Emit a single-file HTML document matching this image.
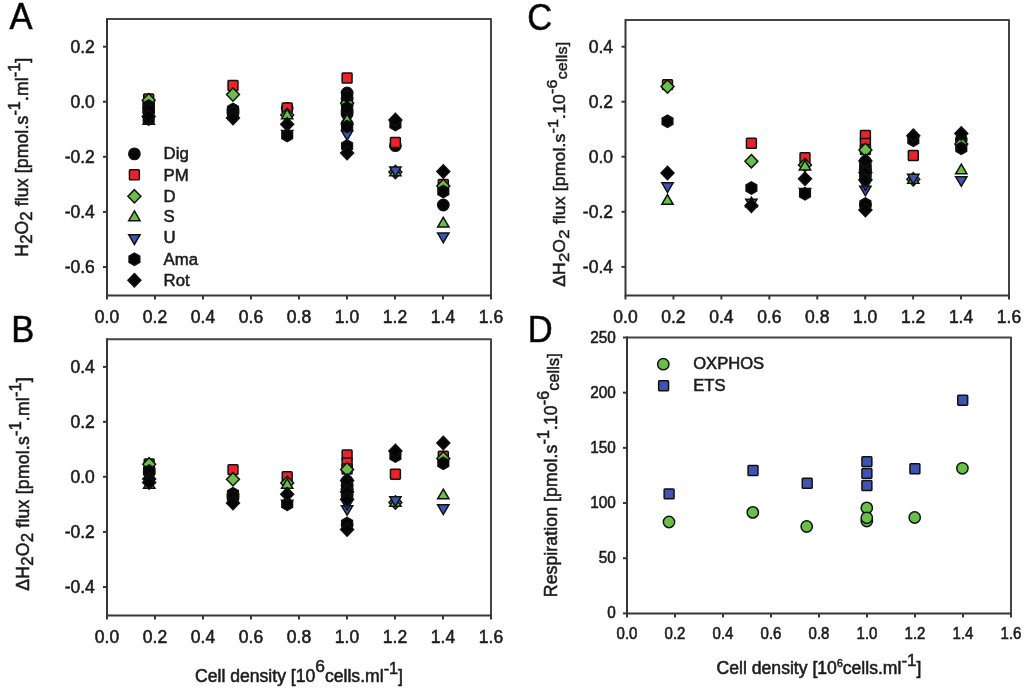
<!DOCTYPE html><html><head><meta charset="utf-8"><style>html,body{margin:0;padding:0;background:#fff;}svg{display:block;filter:blur(0.35px);}</style></head><body>
<svg width="1024" height="690" viewBox="0 0 1024 690" font-family='"Liberation Sans", sans-serif'><style>text{stroke:#1c1c1c;stroke-width:0.55px;}</style>
<rect width="1024" height="690" fill="#fff"/>
<text transform="translate(9.6,29.4) scale(1,1.06)" x="0" y="0" font-size="34.5" fill="#000">A</text>
<text transform="translate(11.2,341.9) scale(1,1.06)" x="0" y="0" font-size="34.5" fill="#000">B</text>
<text transform="translate(527.2,29.6) scale(1,1.06)" x="0" y="0" font-size="34.5" fill="#000">C</text>
<text transform="translate(527.8,341.9) scale(1,1.06)" x="0" y="0" font-size="34.5" fill="#000">D</text>
<path d="M107,19 H491 V295.5" fill="none" stroke="#444" stroke-width="2" stroke-linejoin="round"/>
<path d="M107,18 V295.5 H492" fill="none" stroke="#363636" stroke-width="2"/>
<line x1="107" y1="295.5" x2="107" y2="299.5" stroke="#363636" stroke-width="2"/>
<text x="107" y="323.3" font-size="17.5" text-anchor="middle" fill="#1c1c1c" >0.0</text>
<line x1="155" y1="295.5" x2="155" y2="299.5" stroke="#363636" stroke-width="2"/>
<text x="155" y="323.3" font-size="17.5" text-anchor="middle" fill="#1c1c1c" >0.2</text>
<line x1="203" y1="295.5" x2="203" y2="299.5" stroke="#363636" stroke-width="2"/>
<text x="203" y="323.3" font-size="17.5" text-anchor="middle" fill="#1c1c1c" >0.4</text>
<line x1="251" y1="295.5" x2="251" y2="299.5" stroke="#363636" stroke-width="2"/>
<text x="251" y="323.3" font-size="17.5" text-anchor="middle" fill="#1c1c1c" >0.6</text>
<line x1="299" y1="295.5" x2="299" y2="299.5" stroke="#363636" stroke-width="2"/>
<text x="299" y="323.3" font-size="17.5" text-anchor="middle" fill="#1c1c1c" >0.8</text>
<line x1="347" y1="295.5" x2="347" y2="299.5" stroke="#363636" stroke-width="2"/>
<text x="347" y="323.3" font-size="17.5" text-anchor="middle" fill="#1c1c1c" >1.0</text>
<line x1="395" y1="295.5" x2="395" y2="299.5" stroke="#363636" stroke-width="2"/>
<text x="395" y="323.3" font-size="17.5" text-anchor="middle" fill="#1c1c1c" >1.2</text>
<line x1="443" y1="295.5" x2="443" y2="299.5" stroke="#363636" stroke-width="2"/>
<text x="443" y="323.3" font-size="17.5" text-anchor="middle" fill="#1c1c1c" >1.4</text>
<line x1="491" y1="295.5" x2="491" y2="299.5" stroke="#363636" stroke-width="2"/>
<text x="491" y="323.3" font-size="17.5" text-anchor="middle" fill="#1c1c1c" >1.6</text>
<line x1="103" y1="46.7" x2="107" y2="46.7" stroke="#363636" stroke-width="2"/>
<text x="94.8" y="52.9" font-size="17.5" text-anchor="end" fill="#1c1c1c" >0.2</text>
<line x1="103" y1="101.7" x2="107" y2="101.7" stroke="#363636" stroke-width="2"/>
<text x="94.8" y="107.9" font-size="17.5" text-anchor="end" fill="#1c1c1c" >0.0</text>
<line x1="103" y1="156.8" x2="107" y2="156.8" stroke="#363636" stroke-width="2"/>
<text x="94.8" y="163" font-size="17.5" text-anchor="end" fill="#1c1c1c" >-0.2</text>
<line x1="103" y1="211.9" x2="107" y2="211.9" stroke="#363636" stroke-width="2"/>
<text x="94.8" y="218.1" font-size="17.5" text-anchor="end" fill="#1c1c1c" >-0.4</text>
<line x1="103" y1="267" x2="107" y2="267" stroke="#363636" stroke-width="2"/>
<text x="94.8" y="273.2" font-size="17.5" text-anchor="end" fill="#1c1c1c" >-0.6</text>
<path d="M107,339.3 H491 V615.5" fill="none" stroke="#444" stroke-width="2" stroke-linejoin="round"/>
<path d="M107,338.3 V615.5 H492" fill="none" stroke="#363636" stroke-width="2"/>
<line x1="107" y1="615.5" x2="107" y2="619.5" stroke="#363636" stroke-width="2"/>
<text x="107" y="643.3" font-size="17.5" text-anchor="middle" fill="#1c1c1c" >0.0</text>
<line x1="155" y1="615.5" x2="155" y2="619.5" stroke="#363636" stroke-width="2"/>
<text x="155" y="643.3" font-size="17.5" text-anchor="middle" fill="#1c1c1c" >0.2</text>
<line x1="203" y1="615.5" x2="203" y2="619.5" stroke="#363636" stroke-width="2"/>
<text x="203" y="643.3" font-size="17.5" text-anchor="middle" fill="#1c1c1c" >0.4</text>
<line x1="251" y1="615.5" x2="251" y2="619.5" stroke="#363636" stroke-width="2"/>
<text x="251" y="643.3" font-size="17.5" text-anchor="middle" fill="#1c1c1c" >0.6</text>
<line x1="299" y1="615.5" x2="299" y2="619.5" stroke="#363636" stroke-width="2"/>
<text x="299" y="643.3" font-size="17.5" text-anchor="middle" fill="#1c1c1c" >0.8</text>
<line x1="347" y1="615.5" x2="347" y2="619.5" stroke="#363636" stroke-width="2"/>
<text x="347" y="643.3" font-size="17.5" text-anchor="middle" fill="#1c1c1c" >1.0</text>
<line x1="395" y1="615.5" x2="395" y2="619.5" stroke="#363636" stroke-width="2"/>
<text x="395" y="643.3" font-size="17.5" text-anchor="middle" fill="#1c1c1c" >1.2</text>
<line x1="443" y1="615.5" x2="443" y2="619.5" stroke="#363636" stroke-width="2"/>
<text x="443" y="643.3" font-size="17.5" text-anchor="middle" fill="#1c1c1c" >1.4</text>
<line x1="491" y1="615.5" x2="491" y2="619.5" stroke="#363636" stroke-width="2"/>
<text x="491" y="643.3" font-size="17.5" text-anchor="middle" fill="#1c1c1c" >1.6</text>
<line x1="103" y1="366.9" x2="107" y2="366.9" stroke="#363636" stroke-width="2"/>
<text x="94.8" y="373.1" font-size="17.5" text-anchor="end" fill="#1c1c1c" >0.4</text>
<line x1="103" y1="421.8" x2="107" y2="421.8" stroke="#363636" stroke-width="2"/>
<text x="94.8" y="428" font-size="17.5" text-anchor="end" fill="#1c1c1c" >0.2</text>
<line x1="103" y1="476.8" x2="107" y2="476.8" stroke="#363636" stroke-width="2"/>
<text x="94.8" y="483" font-size="17.5" text-anchor="end" fill="#1c1c1c" >0.0</text>
<line x1="103" y1="531.9" x2="107" y2="531.9" stroke="#363636" stroke-width="2"/>
<text x="94.8" y="538.1" font-size="17.5" text-anchor="end" fill="#1c1c1c" >-0.2</text>
<line x1="103" y1="587" x2="107" y2="587" stroke="#363636" stroke-width="2"/>
<text x="94.8" y="593.2" font-size="17.5" text-anchor="end" fill="#1c1c1c" >-0.4</text>
<path d="M625.5,20 H1009 V295.5" fill="none" stroke="#444" stroke-width="2" stroke-linejoin="round"/>
<path d="M625.5,19 V295.5 H1010" fill="none" stroke="#363636" stroke-width="2"/>
<line x1="625.5" y1="295.5" x2="625.5" y2="299.5" stroke="#363636" stroke-width="2"/>
<text x="625.5" y="323.3" font-size="17.5" text-anchor="middle" fill="#1c1c1c" >0.0</text>
<line x1="673.44" y1="295.5" x2="673.44" y2="299.5" stroke="#363636" stroke-width="2"/>
<text x="673.44" y="323.3" font-size="17.5" text-anchor="middle" fill="#1c1c1c" >0.2</text>
<line x1="721.38" y1="295.5" x2="721.38" y2="299.5" stroke="#363636" stroke-width="2"/>
<text x="721.38" y="323.3" font-size="17.5" text-anchor="middle" fill="#1c1c1c" >0.4</text>
<line x1="769.31" y1="295.5" x2="769.31" y2="299.5" stroke="#363636" stroke-width="2"/>
<text x="769.31" y="323.3" font-size="17.5" text-anchor="middle" fill="#1c1c1c" >0.6</text>
<line x1="817.25" y1="295.5" x2="817.25" y2="299.5" stroke="#363636" stroke-width="2"/>
<text x="817.25" y="323.3" font-size="17.5" text-anchor="middle" fill="#1c1c1c" >0.8</text>
<line x1="865.19" y1="295.5" x2="865.19" y2="299.5" stroke="#363636" stroke-width="2"/>
<text x="865.19" y="323.3" font-size="17.5" text-anchor="middle" fill="#1c1c1c" >1.0</text>
<line x1="913.12" y1="295.5" x2="913.12" y2="299.5" stroke="#363636" stroke-width="2"/>
<text x="913.12" y="323.3" font-size="17.5" text-anchor="middle" fill="#1c1c1c" >1.2</text>
<line x1="961.06" y1="295.5" x2="961.06" y2="299.5" stroke="#363636" stroke-width="2"/>
<text x="961.06" y="323.3" font-size="17.5" text-anchor="middle" fill="#1c1c1c" >1.4</text>
<line x1="1009" y1="295.5" x2="1009" y2="299.5" stroke="#363636" stroke-width="2"/>
<text x="1009" y="323.3" font-size="17.5" text-anchor="middle" fill="#1c1c1c" >1.6</text>
<line x1="621.5" y1="46.7" x2="625.5" y2="46.7" stroke="#363636" stroke-width="2"/>
<text x="613" y="52.9" font-size="17.5" text-anchor="end" fill="#1c1c1c" >0.4</text>
<line x1="621.5" y1="101.7" x2="625.5" y2="101.7" stroke="#363636" stroke-width="2"/>
<text x="613" y="107.9" font-size="17.5" text-anchor="end" fill="#1c1c1c" >0.2</text>
<line x1="621.5" y1="156.7" x2="625.5" y2="156.7" stroke="#363636" stroke-width="2"/>
<text x="613" y="162.9" font-size="17.5" text-anchor="end" fill="#1c1c1c" >0.0</text>
<line x1="621.5" y1="211.8" x2="625.5" y2="211.8" stroke="#363636" stroke-width="2"/>
<text x="613" y="218" font-size="17.5" text-anchor="end" fill="#1c1c1c" >-0.2</text>
<line x1="621.5" y1="266.9" x2="625.5" y2="266.9" stroke="#363636" stroke-width="2"/>
<text x="613" y="273.1" font-size="17.5" text-anchor="end" fill="#1c1c1c" >-0.4</text>
<path d="M627,337.5 H1011 V613.4" fill="none" stroke="#444" stroke-width="2" stroke-linejoin="round"/>
<path d="M627,336.5 V613.4 H1012" fill="none" stroke="#363636" stroke-width="2"/>
<line x1="627" y1="613.4" x2="627" y2="617.4" stroke="#363636" stroke-width="2"/>
<text transform="translate(627,638.9) scale(0.97,1.12)" x="0" y="0" font-size="15.5" text-anchor="middle" fill="#1c1c1c" >0.0</text>
<line x1="675" y1="613.4" x2="675" y2="617.4" stroke="#363636" stroke-width="2"/>
<text transform="translate(675,638.9) scale(0.97,1.12)" x="0" y="0" font-size="15.5" text-anchor="middle" fill="#1c1c1c" >0.2</text>
<line x1="723" y1="613.4" x2="723" y2="617.4" stroke="#363636" stroke-width="2"/>
<text transform="translate(723,638.9) scale(0.97,1.12)" x="0" y="0" font-size="15.5" text-anchor="middle" fill="#1c1c1c" >0.4</text>
<line x1="771" y1="613.4" x2="771" y2="617.4" stroke="#363636" stroke-width="2"/>
<text transform="translate(771,638.9) scale(0.97,1.12)" x="0" y="0" font-size="15.5" text-anchor="middle" fill="#1c1c1c" >0.6</text>
<line x1="819" y1="613.4" x2="819" y2="617.4" stroke="#363636" stroke-width="2"/>
<text transform="translate(819,638.9) scale(0.97,1.12)" x="0" y="0" font-size="15.5" text-anchor="middle" fill="#1c1c1c" >0.8</text>
<line x1="867" y1="613.4" x2="867" y2="617.4" stroke="#363636" stroke-width="2"/>
<text transform="translate(867,638.9) scale(0.97,1.12)" x="0" y="0" font-size="15.5" text-anchor="middle" fill="#1c1c1c" >1.0</text>
<line x1="915" y1="613.4" x2="915" y2="617.4" stroke="#363636" stroke-width="2"/>
<text transform="translate(915,638.9) scale(0.97,1.12)" x="0" y="0" font-size="15.5" text-anchor="middle" fill="#1c1c1c" >1.2</text>
<line x1="963" y1="613.4" x2="963" y2="617.4" stroke="#363636" stroke-width="2"/>
<text transform="translate(963,638.9) scale(0.97,1.12)" x="0" y="0" font-size="15.5" text-anchor="middle" fill="#1c1c1c" >1.4</text>
<line x1="1011" y1="613.4" x2="1011" y2="617.4" stroke="#363636" stroke-width="2"/>
<text transform="translate(1011,638.9) scale(0.97,1.12)" x="0" y="0" font-size="15.5" text-anchor="middle" fill="#1c1c1c" >1.6</text>
<line x1="623" y1="613.4" x2="627" y2="613.4" stroke="#363636" stroke-width="2"/>
<text transform="translate(615.8,618.4) scale(0.99,1.12)" x="0" y="0" font-size="15.5" text-anchor="end" fill="#1c1c1c" >0</text>
<line x1="623" y1="558.22" x2="627" y2="558.22" stroke="#363636" stroke-width="2"/>
<text transform="translate(615.8,563.22) scale(0.99,1.12)" x="0" y="0" font-size="15.5" text-anchor="end" fill="#1c1c1c" >50</text>
<line x1="623" y1="503.04" x2="627" y2="503.04" stroke="#363636" stroke-width="2"/>
<text transform="translate(615.8,508.04) scale(0.99,1.12)" x="0" y="0" font-size="15.5" text-anchor="end" fill="#1c1c1c" >100</text>
<line x1="623" y1="447.86" x2="627" y2="447.86" stroke="#363636" stroke-width="2"/>
<text transform="translate(615.8,452.86) scale(0.99,1.12)" x="0" y="0" font-size="15.5" text-anchor="end" fill="#1c1c1c" >150</text>
<line x1="623" y1="392.68" x2="627" y2="392.68" stroke="#363636" stroke-width="2"/>
<text transform="translate(615.8,397.68) scale(0.99,1.12)" x="0" y="0" font-size="15.5" text-anchor="end" fill="#1c1c1c" >200</text>
<line x1="623" y1="337.5" x2="627" y2="337.5" stroke="#363636" stroke-width="2"/>
<text transform="translate(615.8,342.5) scale(0.99,1.12)" x="0" y="0" font-size="15.5" text-anchor="end" fill="#1c1c1c" >250</text>
<text transform="translate(27.9,157.2) scale(1.0,1) rotate(-90)" x="0" y="0" font-size="17.6" text-anchor="middle" fill="#1c1c1c" letter-spacing="0.14">H<tspan dy="4" font-size="16.6">2</tspan><tspan dy="-4">O</tspan><tspan dy="4" font-size="16.6">2</tspan><tspan dy="-4"> flux [pmol.s</tspan><tspan dy="-8" font-size="16">-1</tspan><tspan dy="8">.ml</tspan><tspan dy="-8" font-size="16">-1</tspan><tspan dy="8">]</tspan></text>
<text transform="translate(28.7,483.9) scale(1.0,1) rotate(-90)" x="0" y="0" font-size="17.6" text-anchor="middle" fill="#1c1c1c" letter-spacing="0.24">&#916;H<tspan dy="4" font-size="16.6">2</tspan><tspan dy="-4">O</tspan><tspan dy="4" font-size="16.6">2</tspan><tspan dy="-4"> flux [pmol.s</tspan><tspan dy="-8" font-size="16">-1</tspan><tspan dy="8">.ml</tspan><tspan dy="-8" font-size="16">-1</tspan><tspan dy="8">]</tspan></text>
<text transform="translate(565.3,164.2) scale(0.92,1) rotate(-90)" x="0" y="0" font-size="17.6" text-anchor="middle" fill="#1c1c1c" letter-spacing="0.16">&#916;H<tspan dy="4" font-size="16.6">2</tspan><tspan dy="-4">O</tspan><tspan dy="4" font-size="16.6">2</tspan><tspan dy="-4"> flux [pmol.s</tspan><tspan dy="-8" font-size="16">-1</tspan><tspan dy="8">.10</tspan><tspan dy="-8.5" font-size="16">-6</tspan><tspan dy="10.5" font-size="16.2">cells]</tspan></text>
<text transform="translate(557.2,475.2) scale(1.0,1) rotate(-90)" x="0" y="0" font-size="17.6" text-anchor="middle" fill="#1c1c1c" letter-spacing="0.11">Respiration [pmol.s<tspan dy="-8" font-size="16">-1</tspan><tspan dy="8">.10</tspan><tspan dy="-8.5" font-size="16">-6</tspan><tspan dy="10.5" font-size="16.2">cells]</tspan></text>
<text x="299" y="681.5" font-size="17.6" text-anchor="middle" fill="#1c1c1c" >Cell density [10<tspan dy="-9.8" font-size="17.4">6</tspan><tspan dy="9.8">cells.ml</tspan><tspan dy="-7.5" font-size="16.3">-1</tspan><tspan dy="7.5">]</tspan></text>
<text x="819" y="674" font-size="17.6" text-anchor="middle" fill="#1c1c1c" >Cell density [10<tspan dy="-6.8" font-size="10.5">6</tspan><tspan dy="6.8">cells.ml</tspan><tspan dy="-8.2" font-size="17">-1</tspan><tspan dy="8.2">]</tspan></text>
<circle cx="134.4" cy="153.9" r="5.65" fill="#050505" stroke="#111" stroke-width="1.5"/>
<text x="163.6" y="159.1" font-size="16.75" text-anchor="start" fill="#1c1c1c" >Dig</text>
<rect x="129.45" y="169.85" width="9.9" height="9.9" rx="0.8" fill="#ec2229" stroke="#111" stroke-width="1.5"/>
<text x="163.6" y="180.6" font-size="16.75" text-anchor="start" fill="#1c1c1c" >PM</text>
<polygon points="134.4,189.65 140.85,196.3 134.4,202.95 127.95,196.3" fill="#69bf48" stroke="#111" stroke-width="1.5" stroke-linejoin="miter"/>
<text x="163.6" y="201.5" font-size="16.75" text-anchor="start" fill="#1c1c1c" >D</text>
<polygon points="134.4,210.95 140.05,220.65 128.75,220.65" fill="#69bf48" stroke="#111" stroke-width="1.5" stroke-linejoin="miter"/>
<text x="163.6" y="222" font-size="16.75" text-anchor="start" fill="#1c1c1c" >S</text>
<polygon points="128.75,234.75 140.05,234.75 134.4,244.45" fill="#3e54b0" stroke="#111" stroke-width="1.5" stroke-linejoin="miter"/>
<text x="163.6" y="243.4" font-size="16.75" text-anchor="start" fill="#1c1c1c" >U</text>
<polygon points="134.4,253.05 139.73,256.12 139.73,262.27 134.4,265.35 129.07,262.27 129.07,256.12" fill="#050505" stroke="#111" stroke-width="1.5" stroke-linejoin="miter"/>
<text x="163.6" y="264.6" font-size="16.75" text-anchor="start" fill="#1c1c1c" >Ama</text>
<polygon points="134.4,273.55 140.85,280.2 134.4,286.85 127.95,280.2" fill="#050505" stroke="#111" stroke-width="1.5" stroke-linejoin="miter"/>
<text x="163.6" y="285.7" font-size="16.75" text-anchor="start" fill="#1c1c1c" >Rot</text>
<circle cx="663.3" cy="364.2" r="5.65" fill="#69bf48" stroke="#111" stroke-width="1.5"/>
<text x="693.2" y="369.3" font-size="16.6" text-anchor="start" fill="#1c1c1c" >OXPHOS</text>
<rect x="658.65" y="380.75" width="9.9" height="9.9" rx="0.8" fill="#3e54b0" stroke="#111" stroke-width="1.5"/>
<text x="693.2" y="390.5" font-size="16.6" text-anchor="start" fill="#1c1c1c" >ETS</text>
<circle cx="148.7" cy="104" r="5.65" fill="#050505" stroke="#111" stroke-width="1.5"/>
<circle cx="148.7" cy="108" r="5.65" fill="#050505" stroke="#111" stroke-width="1.5"/>
<circle cx="148.7" cy="112" r="5.65" fill="#050505" stroke="#111" stroke-width="1.5"/>
<rect x="143.75" y="94.05" width="9.9" height="9.9" rx="0.8" fill="#ec2229" stroke="#111" stroke-width="1.5"/>
<polygon points="148.7,93.55 155.15,100.2 148.7,106.85 142.25,100.2" fill="#69bf48" stroke="#111" stroke-width="1.5" stroke-linejoin="miter"/>
<polygon points="148.7,114.65 154.35,124.35 143.05,124.35" fill="#69bf48" stroke="#111" stroke-width="1.5" stroke-linejoin="miter"/>
<polygon points="148.7,99.85 154.03,102.92 154.03,109.08 148.7,112.15 143.37,109.08 143.37,102.92" fill="#050505" stroke="#111" stroke-width="1.5" stroke-linejoin="miter"/>
<polygon points="148.7,103.85 154.03,106.92 154.03,113.08 148.7,116.15 143.37,113.08 143.37,106.92" fill="#050505" stroke="#111" stroke-width="1.5" stroke-linejoin="miter"/>
<polygon points="148.7,112.85 154.03,115.92 154.03,122.08 148.7,125.15 143.37,122.08 143.37,115.92" fill="#050505" stroke="#111" stroke-width="1.5" stroke-linejoin="miter"/>
<polygon points="148.7,109.85 155.15,116.5 148.7,123.15 142.25,116.5" fill="#050505" stroke="#111" stroke-width="1.5" stroke-linejoin="miter"/>
<circle cx="233" cy="110" r="5.65" fill="#050505" stroke="#111" stroke-width="1.5"/>
<circle cx="233" cy="113" r="5.65" fill="#050505" stroke="#111" stroke-width="1.5"/>
<rect x="228.05" y="80.55" width="9.9" height="9.9" rx="0.8" fill="#ec2229" stroke="#111" stroke-width="1.5"/>
<polygon points="233,87.95 239.45,94.6 233,101.25 226.55,94.6" fill="#69bf48" stroke="#111" stroke-width="1.5" stroke-linejoin="miter"/>
<polygon points="233,103.35 238.33,106.42 238.33,112.58 233,115.65 227.67,112.58 227.67,106.42" fill="#050505" stroke="#111" stroke-width="1.5" stroke-linejoin="miter"/>
<polygon points="233,106.85 238.33,109.92 238.33,116.08 233,119.15 227.67,116.08 227.67,109.92" fill="#050505" stroke="#111" stroke-width="1.5" stroke-linejoin="miter"/>
<polygon points="233,111.35 239.45,118 233,124.65 226.55,118" fill="#050505" stroke="#111" stroke-width="1.5" stroke-linejoin="miter"/>
<circle cx="287.2" cy="108.3" r="5.65" fill="#050505" stroke="#111" stroke-width="1.5"/>
<rect x="282.25" y="103.05" width="9.9" height="9.9" rx="0.8" fill="#ec2229" stroke="#111" stroke-width="1.5"/>
<polygon points="287.2,108.35 293.65,115 287.2,121.65 280.75,115" fill="#69bf48" stroke="#111" stroke-width="1.5" stroke-linejoin="miter"/>
<polygon points="287.2,109.15 292.85,118.85 281.55,118.85" fill="#69bf48" stroke="#111" stroke-width="1.5" stroke-linejoin="miter"/>
<polygon points="281.55,130.55 292.85,130.55 287.2,140.25" fill="#050505" stroke="#111" stroke-width="1.5" stroke-linejoin="miter"/>
<polygon points="287.2,129.35 292.53,132.43 292.53,138.57 287.2,141.65 281.87,138.57 281.87,132.43" fill="#050505" stroke="#111" stroke-width="1.5" stroke-linejoin="miter"/>
<polygon points="287.2,117.65 293.65,124.3 287.2,130.95 280.75,124.3" fill="#050505" stroke="#111" stroke-width="1.5" stroke-linejoin="miter"/>
<circle cx="347.1" cy="93" r="5.65" fill="#050505" stroke="#111" stroke-width="1.5"/>
<circle cx="347.1" cy="99" r="5.65" fill="#050505" stroke="#111" stroke-width="1.5"/>
<circle cx="347.1" cy="105" r="5.65" fill="#050505" stroke="#111" stroke-width="1.5"/>
<circle cx="347.1" cy="111" r="5.65" fill="#050505" stroke="#111" stroke-width="1.5"/>
<circle cx="347.1" cy="114" r="5.65" fill="#050505" stroke="#111" stroke-width="1.5"/>
<circle cx="347.1" cy="124" r="5.65" fill="#050505" stroke="#111" stroke-width="1.5"/>
<rect x="342.15" y="73.05" width="9.9" height="9.9" rx="0.8" fill="#ec2229" stroke="#111" stroke-width="1.5"/>
<polygon points="347.1,96.35 353.55,103 347.1,109.65 340.65,103" fill="#69bf48" stroke="#111" stroke-width="1.5" stroke-linejoin="miter"/>
<polygon points="347.1,114.15 352.75,123.85 341.45,123.85" fill="#69bf48" stroke="#111" stroke-width="1.5" stroke-linejoin="miter"/>
<polygon points="341.45,130.65 352.75,130.65 347.1,140.35" fill="#3e54b0" stroke="#111" stroke-width="1.5" stroke-linejoin="miter"/>
<polygon points="347.1,89.85 352.43,92.92 352.43,99.08 347.1,102.15 341.77,99.08 341.77,92.92" fill="#050505" stroke="#111" stroke-width="1.5" stroke-linejoin="miter"/>
<polygon points="347.1,101.85 352.43,104.92 352.43,111.08 347.1,114.15 341.77,111.08 341.77,104.92" fill="#050505" stroke="#111" stroke-width="1.5" stroke-linejoin="miter"/>
<polygon points="347.1,120.35 352.43,123.42 352.43,129.57 347.1,132.65 341.77,129.57 341.77,123.42" fill="#050505" stroke="#111" stroke-width="1.5" stroke-linejoin="miter"/>
<polygon points="347.1,139.85 352.43,142.93 352.43,149.07 347.1,152.15 341.77,149.07 341.77,142.93" fill="#050505" stroke="#111" stroke-width="1.5" stroke-linejoin="miter"/>
<polygon points="347.1,146.35 353.55,153 347.1,159.65 340.65,153" fill="#050505" stroke="#111" stroke-width="1.5" stroke-linejoin="miter"/>
<circle cx="395.4" cy="145.7" r="5.65" fill="#050505" stroke="#111" stroke-width="1.5"/>
<rect x="390.45" y="137.55" width="9.9" height="9.9" rx="0.8" fill="#ec2229" stroke="#111" stroke-width="1.5"/>
<polygon points="395.4,165.35 401.85,172 395.4,178.65 388.95,172" fill="#69bf48" stroke="#111" stroke-width="1.5" stroke-linejoin="miter"/>
<polygon points="395.4,166.15 401.05,175.85 389.75,175.85" fill="#69bf48" stroke="#111" stroke-width="1.5" stroke-linejoin="miter"/>
<polygon points="389.75,166.95 401.05,166.95 395.4,176.65" fill="#3e54b0" stroke="#111" stroke-width="1.5" stroke-linejoin="miter"/>
<polygon points="395.4,118.35 400.73,121.42 400.73,127.58 395.4,130.65 390.07,127.58 390.07,121.42" fill="#050505" stroke="#111" stroke-width="1.5" stroke-linejoin="miter"/>
<polygon points="395.4,113.35 401.85,120 395.4,126.65 388.95,120" fill="#050505" stroke="#111" stroke-width="1.5" stroke-linejoin="miter"/>
<circle cx="443.3" cy="205" r="5.65" fill="#050505" stroke="#111" stroke-width="1.5"/>
<rect x="438.35" y="179.55" width="9.9" height="9.9" rx="0.8" fill="#ec2229" stroke="#111" stroke-width="1.5"/>
<polygon points="443.3,179.35 449.75,186 443.3,192.65 436.85,186" fill="#69bf48" stroke="#111" stroke-width="1.5" stroke-linejoin="miter"/>
<polygon points="443.3,217.35 448.95,227.05 437.65,227.05" fill="#69bf48" stroke="#111" stroke-width="1.5" stroke-linejoin="miter"/>
<polygon points="437.65,233.05 448.95,233.05 443.3,242.75" fill="#3e54b0" stroke="#111" stroke-width="1.5" stroke-linejoin="miter"/>
<polygon points="443.3,185.35 448.63,188.43 448.63,194.57 443.3,197.65 437.97,194.57 437.97,188.43" fill="#050505" stroke="#111" stroke-width="1.5" stroke-linejoin="miter"/>
<polygon points="443.3,164.75 449.75,171.4 443.3,178.05 436.85,171.4" fill="#050505" stroke="#111" stroke-width="1.5" stroke-linejoin="miter"/>
<circle cx="149.2" cy="469.5" r="5.65" fill="#050505" stroke="#111" stroke-width="1.5"/>
<circle cx="149.2" cy="473" r="5.65" fill="#050505" stroke="#111" stroke-width="1.5"/>
<rect x="144.25" y="459.05" width="9.9" height="9.9" rx="0.8" fill="#ec2229" stroke="#111" stroke-width="1.5"/>
<polygon points="149.2,457.65 155.65,464.3 149.2,470.95 142.75,464.3" fill="#69bf48" stroke="#111" stroke-width="1.5" stroke-linejoin="miter"/>
<polygon points="149.2,478.65 154.85,488.35 143.55,488.35" fill="#69bf48" stroke="#111" stroke-width="1.5" stroke-linejoin="miter"/>
<polygon points="149.2,464.85 154.53,467.93 154.53,474.07 149.2,477.15 143.87,474.07 143.87,467.93" fill="#050505" stroke="#111" stroke-width="1.5" stroke-linejoin="miter"/>
<polygon points="149.2,472.35 155.65,479 149.2,485.65 142.75,479" fill="#050505" stroke="#111" stroke-width="1.5" stroke-linejoin="miter"/>
<polygon points="149.2,475.95 155.65,482.6 149.2,489.25 142.75,482.6" fill="#050505" stroke="#111" stroke-width="1.5" stroke-linejoin="miter"/>
<circle cx="233" cy="495" r="5.65" fill="#050505" stroke="#111" stroke-width="1.5"/>
<circle cx="233" cy="498" r="5.65" fill="#050505" stroke="#111" stroke-width="1.5"/>
<rect x="228.05" y="464.65" width="9.9" height="9.9" rx="0.8" fill="#ec2229" stroke="#111" stroke-width="1.5"/>
<polygon points="233,472.65 239.45,479.3 233,485.95 226.55,479.3" fill="#69bf48" stroke="#111" stroke-width="1.5" stroke-linejoin="miter"/>
<polygon points="233,487.55 238.33,490.62 238.33,496.77 233,499.85 227.67,496.77 227.67,490.62" fill="#050505" stroke="#111" stroke-width="1.5" stroke-linejoin="miter"/>
<polygon points="233,490.85 238.33,493.93 238.33,500.07 233,503.15 227.67,500.07 227.67,493.93" fill="#050505" stroke="#111" stroke-width="1.5" stroke-linejoin="miter"/>
<polygon points="233,496.35 239.45,503 233,509.65 226.55,503" fill="#050505" stroke="#111" stroke-width="1.5" stroke-linejoin="miter"/>
<rect x="282.25" y="471.85" width="9.9" height="9.9" rx="0.8" fill="#ec2229" stroke="#111" stroke-width="1.5"/>
<polygon points="287.2,476.35 293.65,483 287.2,489.65 280.75,483" fill="#69bf48" stroke="#111" stroke-width="1.5" stroke-linejoin="miter"/>
<polygon points="287.2,478.65 292.85,488.35 281.55,488.35" fill="#69bf48" stroke="#111" stroke-width="1.5" stroke-linejoin="miter"/>
<polygon points="281.55,500.35 292.85,500.35 287.2,510.05" fill="#050505" stroke="#111" stroke-width="1.5" stroke-linejoin="miter"/>
<polygon points="287.2,498.15 292.53,501.23 292.53,507.38 287.2,510.45 281.87,507.38 281.87,501.23" fill="#050505" stroke="#111" stroke-width="1.5" stroke-linejoin="miter"/>
<polygon points="287.2,487.55 293.65,494.2 287.2,500.85 280.75,494.2" fill="#050505" stroke="#111" stroke-width="1.5" stroke-linejoin="miter"/>
<circle cx="347.1" cy="481" r="5.65" fill="#050505" stroke="#111" stroke-width="1.5"/>
<circle cx="347.1" cy="486" r="5.65" fill="#050505" stroke="#111" stroke-width="1.5"/>
<circle cx="347.1" cy="491" r="5.65" fill="#050505" stroke="#111" stroke-width="1.5"/>
<circle cx="347.1" cy="496" r="5.65" fill="#050505" stroke="#111" stroke-width="1.5"/>
<circle cx="347.1" cy="524.5" r="5.65" fill="#050505" stroke="#111" stroke-width="1.5"/>
<rect x="342.15" y="450.05" width="9.9" height="9.9" rx="0.8" fill="#ec2229" stroke="#111" stroke-width="1.5"/>
<rect x="342.15" y="458.05" width="9.9" height="9.9" rx="0.8" fill="#ec2229" stroke="#111" stroke-width="1.5"/>
<rect x="342.15" y="464.05" width="9.9" height="9.9" rx="0.8" fill="#ec2229" stroke="#111" stroke-width="1.5"/>
<polygon points="347.1,462.75 353.55,469.4 347.1,476.05 340.65,469.4" fill="#69bf48" stroke="#111" stroke-width="1.5" stroke-linejoin="miter"/>
<polygon points="347.1,479.15 352.75,488.85 341.45,488.85" fill="#69bf48" stroke="#111" stroke-width="1.5" stroke-linejoin="miter"/>
<polygon points="341.45,505.65 352.75,505.65 347.1,515.35" fill="#3e54b0" stroke="#111" stroke-width="1.5" stroke-linejoin="miter"/>
<polygon points="341.45,500.15 352.75,500.15 347.1,509.85" fill="#3e54b0" stroke="#111" stroke-width="1.5" stroke-linejoin="miter"/>
<polygon points="347.1,480.35 352.43,483.43 352.43,489.57 347.1,492.65 341.77,489.57 341.77,483.43" fill="#050505" stroke="#111" stroke-width="1.5" stroke-linejoin="miter"/>
<polygon points="347.1,485.85 352.43,488.93 352.43,495.07 347.1,498.15 341.77,495.07 341.77,488.93" fill="#050505" stroke="#111" stroke-width="1.5" stroke-linejoin="miter"/>
<polygon points="347.1,517.35 352.43,520.42 352.43,526.58 347.1,529.65 341.77,526.58 341.77,520.42" fill="#050505" stroke="#111" stroke-width="1.5" stroke-linejoin="miter"/>
<polygon points="347.1,473.85 353.55,480.5 347.1,487.15 340.65,480.5" fill="#050505" stroke="#111" stroke-width="1.5" stroke-linejoin="miter"/>
<polygon points="347.1,485.35 353.55,492 347.1,498.65 340.65,492" fill="#050505" stroke="#111" stroke-width="1.5" stroke-linejoin="miter"/>
<polygon points="347.1,492.65 353.55,499.3 347.1,505.95 340.65,499.3" fill="#050505" stroke="#111" stroke-width="1.5" stroke-linejoin="miter"/>
<polygon points="347.1,522.85 353.55,529.5 347.1,536.15 340.65,529.5" fill="#050505" stroke="#111" stroke-width="1.5" stroke-linejoin="miter"/>
<rect x="390.45" y="469.25" width="9.9" height="9.9" rx="0.8" fill="#ec2229" stroke="#111" stroke-width="1.5"/>
<polygon points="395.4,495.85 401.85,502.5 395.4,509.15 388.95,502.5" fill="#69bf48" stroke="#111" stroke-width="1.5" stroke-linejoin="miter"/>
<polygon points="395.4,496.65 401.05,506.35 389.75,506.35" fill="#69bf48" stroke="#111" stroke-width="1.5" stroke-linejoin="miter"/>
<polygon points="389.75,496.75 401.05,496.75 395.4,506.45" fill="#3e54b0" stroke="#111" stroke-width="1.5" stroke-linejoin="miter"/>
<polygon points="395.4,449.85 400.73,452.93 400.73,459.07 395.4,462.15 390.07,459.07 390.07,452.93" fill="#050505" stroke="#111" stroke-width="1.5" stroke-linejoin="miter"/>
<polygon points="395.4,444.35 401.85,451 395.4,457.65 388.95,451" fill="#050505" stroke="#111" stroke-width="1.5" stroke-linejoin="miter"/>
<rect x="438.35" y="451.35" width="9.9" height="9.9" rx="0.8" fill="#ec2229" stroke="#111" stroke-width="1.5"/>
<polygon points="443.3,451.75 449.75,458.4 443.3,465.05 436.85,458.4" fill="#69bf48" stroke="#111" stroke-width="1.5" stroke-linejoin="miter"/>
<polygon points="443.3,489.15 448.95,498.85 437.65,498.85" fill="#69bf48" stroke="#111" stroke-width="1.5" stroke-linejoin="miter"/>
<polygon points="437.65,504.85 448.95,504.85 443.3,514.55" fill="#3e54b0" stroke="#111" stroke-width="1.5" stroke-linejoin="miter"/>
<polygon points="443.3,457.15 448.63,460.23 448.63,466.38 443.3,469.45 437.97,466.38 437.97,460.23" fill="#050505" stroke="#111" stroke-width="1.5" stroke-linejoin="miter"/>
<polygon points="443.3,436.25 449.75,442.9 443.3,449.55 436.85,442.9" fill="#050505" stroke="#111" stroke-width="1.5" stroke-linejoin="miter"/>
<rect x="662.55" y="79.65" width="9.9" height="9.9" rx="0.8" fill="#ec2229" stroke="#111" stroke-width="1.5"/>
<polygon points="667.5,79.95 673.95,86.6 667.5,93.25 661.05,86.6" fill="#69bf48" stroke="#111" stroke-width="1.5" stroke-linejoin="miter"/>
<polygon points="667.5,194.55 673.15,204.25 661.85,204.25" fill="#69bf48" stroke="#111" stroke-width="1.5" stroke-linejoin="miter"/>
<polygon points="661.85,182.85 673.15,182.85 667.5,192.55" fill="#3e54b0" stroke="#111" stroke-width="1.5" stroke-linejoin="miter"/>
<polygon points="667.5,115.15 672.83,118.22 672.83,124.38 667.5,127.45 662.17,124.38 662.17,118.22" fill="#050505" stroke="#111" stroke-width="1.5" stroke-linejoin="miter"/>
<polygon points="667.5,166.35 673.95,173 667.5,179.65 661.05,173" fill="#050505" stroke="#111" stroke-width="1.5" stroke-linejoin="miter"/>
<rect x="746.45" y="138.35" width="9.9" height="9.9" rx="0.8" fill="#ec2229" stroke="#111" stroke-width="1.5"/>
<polygon points="751.4,154.55 757.85,161.2 751.4,167.85 744.95,161.2" fill="#69bf48" stroke="#111" stroke-width="1.5" stroke-linejoin="miter"/>
<polygon points="751.4,197.15 757.05,206.85 745.75,206.85" fill="#69bf48" stroke="#111" stroke-width="1.5" stroke-linejoin="miter"/>
<polygon points="745.75,199.15 757.05,199.15 751.4,208.85" fill="#3e54b0" stroke="#111" stroke-width="1.5" stroke-linejoin="miter"/>
<polygon points="751.4,181.85 756.73,184.93 756.73,191.07 751.4,194.15 746.07,191.07 746.07,184.93" fill="#050505" stroke="#111" stroke-width="1.5" stroke-linejoin="miter"/>
<polygon points="751.4,199.05 757.85,205.7 751.4,212.35 744.95,205.7" fill="#050505" stroke="#111" stroke-width="1.5" stroke-linejoin="miter"/>
<rect x="800.05" y="152.75" width="9.9" height="9.9" rx="0.8" fill="#ec2229" stroke="#111" stroke-width="1.5"/>
<polygon points="805,158.35 811.45,165 805,171.65 798.55,165" fill="#69bf48" stroke="#111" stroke-width="1.5" stroke-linejoin="miter"/>
<polygon points="805,160.25 810.65,169.95 799.35,169.95" fill="#69bf48" stroke="#111" stroke-width="1.5" stroke-linejoin="miter"/>
<polygon points="799.35,188.45 810.65,188.45 805,198.15" fill="#050505" stroke="#111" stroke-width="1.5" stroke-linejoin="miter"/>
<polygon points="805,187.55 810.33,190.62 810.33,196.77 805,199.85 799.67,196.77 799.67,190.62" fill="#050505" stroke="#111" stroke-width="1.5" stroke-linejoin="miter"/>
<polygon points="805,172.15 811.45,178.8 805,185.45 798.55,178.8" fill="#050505" stroke="#111" stroke-width="1.5" stroke-linejoin="miter"/>
<circle cx="865.4" cy="161.5" r="5.65" fill="#050505" stroke="#111" stroke-width="1.5"/>
<circle cx="865.4" cy="166.5" r="5.65" fill="#050505" stroke="#111" stroke-width="1.5"/>
<circle cx="865.4" cy="171.5" r="5.65" fill="#050505" stroke="#111" stroke-width="1.5"/>
<circle cx="865.4" cy="176.5" r="5.65" fill="#050505" stroke="#111" stroke-width="1.5"/>
<circle cx="865.4" cy="205" r="5.65" fill="#050505" stroke="#111" stroke-width="1.5"/>
<rect x="860.45" y="130.55" width="9.9" height="9.9" rx="0.8" fill="#ec2229" stroke="#111" stroke-width="1.5"/>
<rect x="860.45" y="138.55" width="9.9" height="9.9" rx="0.8" fill="#ec2229" stroke="#111" stroke-width="1.5"/>
<rect x="860.45" y="144.55" width="9.9" height="9.9" rx="0.8" fill="#ec2229" stroke="#111" stroke-width="1.5"/>
<polygon points="865.4,143.25 871.85,149.9 865.4,156.55 858.95,149.9" fill="#69bf48" stroke="#111" stroke-width="1.5" stroke-linejoin="miter"/>
<polygon points="865.4,159.65 871.05,169.35 859.75,169.35" fill="#69bf48" stroke="#111" stroke-width="1.5" stroke-linejoin="miter"/>
<polygon points="859.75,186.15 871.05,186.15 865.4,195.85" fill="#3e54b0" stroke="#111" stroke-width="1.5" stroke-linejoin="miter"/>
<polygon points="859.75,180.65 871.05,180.65 865.4,190.35" fill="#3e54b0" stroke="#111" stroke-width="1.5" stroke-linejoin="miter"/>
<polygon points="865.4,160.85 870.73,163.93 870.73,170.07 865.4,173.15 860.07,170.07 860.07,163.93" fill="#050505" stroke="#111" stroke-width="1.5" stroke-linejoin="miter"/>
<polygon points="865.4,166.35 870.73,169.43 870.73,175.57 865.4,178.65 860.07,175.57 860.07,169.43" fill="#050505" stroke="#111" stroke-width="1.5" stroke-linejoin="miter"/>
<polygon points="865.4,197.85 870.73,200.93 870.73,207.07 865.4,210.15 860.07,207.07 860.07,200.93" fill="#050505" stroke="#111" stroke-width="1.5" stroke-linejoin="miter"/>
<polygon points="865.4,154.35 871.85,161 865.4,167.65 858.95,161" fill="#050505" stroke="#111" stroke-width="1.5" stroke-linejoin="miter"/>
<polygon points="865.4,165.85 871.85,172.5 865.4,179.15 858.95,172.5" fill="#050505" stroke="#111" stroke-width="1.5" stroke-linejoin="miter"/>
<polygon points="865.4,173.15 871.85,179.8 865.4,186.45 858.95,179.8" fill="#050505" stroke="#111" stroke-width="1.5" stroke-linejoin="miter"/>
<polygon points="865.4,203.35 871.85,210 865.4,216.65 858.95,210" fill="#050505" stroke="#111" stroke-width="1.5" stroke-linejoin="miter"/>
<rect x="908.35" y="150.55" width="9.9" height="9.9" rx="0.8" fill="#ec2229" stroke="#111" stroke-width="1.5"/>
<polygon points="913.3,172.65 919.75,179.3 913.3,185.95 906.85,179.3" fill="#69bf48" stroke="#111" stroke-width="1.5" stroke-linejoin="miter"/>
<polygon points="913.3,173.65 918.95,183.35 907.65,183.35" fill="#69bf48" stroke="#111" stroke-width="1.5" stroke-linejoin="miter"/>
<polygon points="907.65,174.35 918.95,174.35 913.3,184.05" fill="#3e54b0" stroke="#111" stroke-width="1.5" stroke-linejoin="miter"/>
<polygon points="913.3,134.05 918.63,137.12 918.63,143.27 913.3,146.35 907.97,143.27 907.97,137.12" fill="#050505" stroke="#111" stroke-width="1.5" stroke-linejoin="miter"/>
<polygon points="913.3,129.05 919.75,135.7 913.3,142.35 906.85,135.7" fill="#050505" stroke="#111" stroke-width="1.5" stroke-linejoin="miter"/>
<circle cx="961.3" cy="139.5" r="5.65" fill="#050505" stroke="#111" stroke-width="1.5"/>
<rect x="956.35" y="139.55" width="9.9" height="9.9" rx="0.8" fill="#ec2229" stroke="#111" stroke-width="1.5"/>
<polygon points="961.3,137.35 967.75,144 961.3,150.65 954.85,144" fill="#69bf48" stroke="#111" stroke-width="1.5" stroke-linejoin="miter"/>
<polygon points="961.3,164.15 966.95,173.85 955.65,173.85" fill="#69bf48" stroke="#111" stroke-width="1.5" stroke-linejoin="miter"/>
<polygon points="955.65,176.65 966.95,176.65 961.3,186.35" fill="#3e54b0" stroke="#111" stroke-width="1.5" stroke-linejoin="miter"/>
<polygon points="961.3,142.15 966.63,145.23 966.63,151.38 961.3,154.45 955.97,151.38 955.97,145.23" fill="#050505" stroke="#111" stroke-width="1.5" stroke-linejoin="miter"/>
<polygon points="961.3,126.75 967.75,133.4 961.3,140.05 954.85,133.4" fill="#050505" stroke="#111" stroke-width="1.5" stroke-linejoin="miter"/>
<circle cx="669" cy="522" r="5.65" fill="#69bf48" stroke="#111" stroke-width="1.5"/>
<circle cx="752.8" cy="512.4" r="5.65" fill="#69bf48" stroke="#111" stroke-width="1.5"/>
<circle cx="806.7" cy="526.5" r="5.65" fill="#69bf48" stroke="#111" stroke-width="1.5"/>
<circle cx="866.8" cy="521" r="5.65" fill="#69bf48" stroke="#111" stroke-width="1.5"/>
<circle cx="866.8" cy="507.9" r="5.65" fill="#69bf48" stroke="#111" stroke-width="1.5"/>
<circle cx="866.8" cy="517.8" r="5.65" fill="#69bf48" stroke="#111" stroke-width="1.5"/>
<circle cx="914.7" cy="517.5" r="5.65" fill="#69bf48" stroke="#111" stroke-width="1.5"/>
<circle cx="962.4" cy="468.3" r="5.65" fill="#69bf48" stroke="#111" stroke-width="1.5"/>
<rect x="664.15" y="488.95" width="9.9" height="9.9" rx="0.8" fill="#3e54b0" stroke="#111" stroke-width="1.5"/>
<rect x="748.05" y="465.55" width="9.9" height="9.9" rx="0.8" fill="#3e54b0" stroke="#111" stroke-width="1.5"/>
<rect x="802.25" y="478.35" width="9.9" height="9.9" rx="0.8" fill="#3e54b0" stroke="#111" stroke-width="1.5"/>
<rect x="861.95" y="456.65" width="9.9" height="9.9" rx="0.8" fill="#3e54b0" stroke="#111" stroke-width="1.5"/>
<rect x="861.95" y="468.45" width="9.9" height="9.9" rx="0.8" fill="#3e54b0" stroke="#111" stroke-width="1.5"/>
<rect x="861.95" y="480.55" width="9.9" height="9.9" rx="0.8" fill="#3e54b0" stroke="#111" stroke-width="1.5"/>
<rect x="909.95" y="463.85" width="9.9" height="9.9" rx="0.8" fill="#3e54b0" stroke="#111" stroke-width="1.5"/>
<rect x="957.75" y="395.25" width="9.9" height="9.9" rx="0.8" fill="#3e54b0" stroke="#111" stroke-width="1.5"/>
</svg></body></html>
